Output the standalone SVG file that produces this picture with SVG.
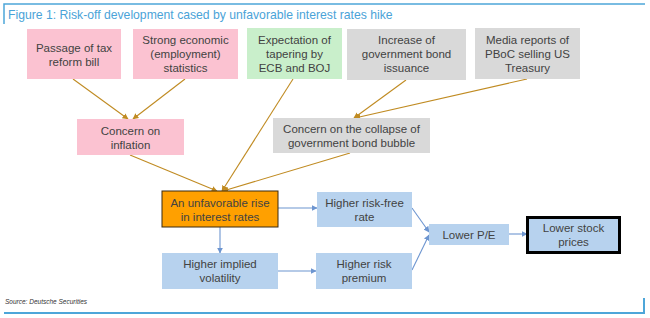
<svg xmlns="http://www.w3.org/2000/svg" width="650" height="318" viewBox="0 0 650 318">
<defs>
<style>
.t{font-family:"Liberation Sans",Arial,sans-serif;font-size:11.5px;fill:#424242;text-anchor:middle}
.pink{fill:#fbc2d1}
.green{fill:#c9efcb}
.gray{fill:#d9d9d9}
.blue{fill:#b7d2ee}
.br{stroke:#c08b22;stroke-width:1.1;fill:none;marker-end:url(#ab)}
.bl{stroke:#6d95d0;stroke-width:1.1;fill:none;marker-end:url(#aw)}
.frame{stroke:#4da6d9;fill:none}
</style>
<marker id="ab" viewBox="0 0 10 10" refX="9" refY="5" markerWidth="6" markerHeight="6" markerUnits="userSpaceOnUse" orient="auto"><path d="M0,0L10,5L0,10z" fill="#c08b22"/></marker>
<marker id="aw" viewBox="0 0 10 10" refX="9" refY="5" markerWidth="6" markerHeight="6" markerUnits="userSpaceOnUse" orient="auto"><path d="M0,0L10,5L0,10z" fill="#6d95d0"/></marker>
</defs>
<rect width="650" height="318" fill="#ffffff"/>
<g id="frame">
<path class="frame" d="M4,24V4H645" stroke-width="1.5"/>
<path class="frame" d="M4,313H644V298" stroke-width="2"/>
<text x="8" y="18.5" font-family="Liberation Sans,Arial,sans-serif" font-size="12.2px" fill="#4aa3d8">Figure 1: Risk-off development cased by unfavorable interest rates hike</text>
<text x="5" y="304" font-family="Liberation Sans,Arial,sans-serif" font-size="6.5px" font-style="italic" fill="#333">Source: Deutsche Securities</text>
</g>
<g id="connectors">
<line class="br" x1="73" y1="79" x2="128" y2="119"/>
<line class="br" x1="185" y1="79" x2="133" y2="119"/>
<line class="br" x1="293" y1="79" x2="222" y2="191"/>
<line class="br" x1="406" y1="80" x2="354" y2="118"/>
<line class="br" x1="527" y1="79" x2="355" y2="118"/>
<line class="br" x1="130" y1="155" x2="217" y2="191"/>
<line class="br" x1="350" y1="153" x2="223" y2="191"/>
<line class="bl" x1="278" y1="208" x2="317" y2="208"/>
<line class="bl" x1="220" y1="227" x2="220" y2="253"/>
<line class="bl" x1="278" y1="271" x2="316" y2="271"/>
<line class="bl" x1="412" y1="208" x2="429" y2="232"/>
<line class="bl" x1="412" y1="270" x2="429" y2="235"/>
<line class="bl" x1="509" y1="234" x2="527" y2="234"/>
</g>
<g id="n1"><rect class="pink" x="27" y="29" width="94" height="50"/><text class="t"><tspan x="74" y="52">Passage of tax</tspan><tspan x="74" y="66">reform bill</tspan></text></g>
<g id="n2"><rect class="pink" x="133" y="29" width="105" height="50"/><text class="t"><tspan x="185.5" y="44">Strong economic</tspan><tspan x="185.5" y="58">(employment)</tspan><tspan x="185.5" y="72">statistics</tspan></text></g>
<g id="n3"><rect class="green" x="247" y="28" width="95" height="51"/><text class="t"><tspan x="294.5" y="44">Expectation of</tspan><tspan x="294.5" y="58">tapering by</tspan><tspan x="294.5" y="72">ECB and BOJ</tspan></text></g>
<g id="n4"><rect class="gray" x="347" y="29" width="119" height="51"/><text class="t"><tspan x="406.5" y="44">Increase of</tspan><tspan x="406.5" y="58">government bond</tspan><tspan x="406.5" y="72">issuance</tspan></text></g>
<g id="n5"><rect class="gray" x="475" y="28" width="105" height="51"/><text class="t"><tspan x="527.5" y="44">Media reports of</tspan><tspan x="527.5" y="58">PBoC selling US</tspan><tspan x="527.5" y="72">Treasury</tspan></text></g>
<g id="n6"><rect class="pink" x="77" y="119" width="107" height="36"/><text class="t"><tspan x="130.5" y="135">Concern on</tspan><tspan x="130.5" y="148.5">inflation</tspan></text></g>
<g id="n7"><rect class="gray" x="273" y="118" width="157" height="35"/><text class="t"><tspan x="351.5" y="133">Concern on the collapse of</tspan><tspan x="351.5" y="147">government bond bubble</tspan></text></g>
<g id="n8"><rect x="162" y="191" width="116" height="36" fill="#ffa000" stroke="#3b2a10" stroke-width="1"/><text class="t"><tspan x="220" y="207">An unfavorable rise</tspan><tspan x="220" y="220.5">in interest rates</tspan></text></g>
<g id="n9"><rect class="blue" x="317" y="192" width="95" height="35"/><text class="t"><tspan x="364.5" y="207">Higher risk-free</tspan><tspan x="364.5" y="220.5">rate</tspan></text></g>
<g id="n10"><rect class="blue" x="162" y="253" width="116" height="36"/><text class="t"><tspan x="220" y="267.5">Higher implied</tspan><tspan x="220" y="282">volatility</tspan></text></g>
<g id="n11"><rect class="blue" x="316" y="253" width="96" height="36"/><text class="t"><tspan x="364" y="267.5">Higher risk</tspan><tspan x="364" y="282">premium</tspan></text></g>
<g id="n12"><rect class="blue" x="429" y="224" width="80" height="21"/><text class="t" x="469" y="238.5">Lower P/E</text></g>
<g id="n13"><rect class="blue" x="527.5" y="217.5" width="92" height="35" stroke="#000" stroke-width="3"/><text class="t"><tspan x="573.5" y="232">Lower stock</tspan><tspan x="573.5" y="246">prices</tspan></text></g>
</svg>
